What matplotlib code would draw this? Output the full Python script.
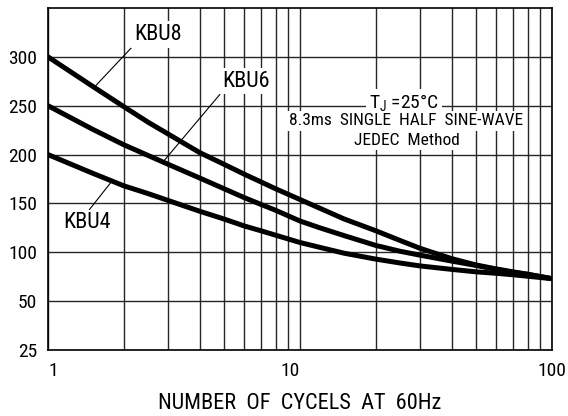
import matplotlib
matplotlib.use("Agg")
import matplotlib.pyplot as plt
import numpy as np
from matplotlib import font_manager
from matplotlib.ticker import FixedLocator, NullFormatter

# values
cycles = [1, 1.5, 2, 2.5, 3, 4, 5, 6, 7, 8, 10, 12, 15, 20, 25, 30, 40, 50, 60, 70, 80, 100]
kbu8 = [300, 270, 249, 233, 221, 202, 190, 180, 172, 165, 154, 145, 134, 122, 112, 104, 93.5, 87, 83, 80, 77.5, 73]
kbu6 = [250, 226, 210, 199, 190, 176, 165, 156, 149, 143, 132, 125, 117, 107, 101, 97, 91, 86.5, 82.5, 79.5, 77.5, 73]
kbu4 = [200, 181, 168, 160, 153, 142, 134, 127, 122, 117.5, 110, 105, 99, 93, 89, 86, 82.5, 80, 78.5, 77, 75.5, 73]

y_ticks = [25, 50, 100, 150, 200, 250, 300]
x_ticks = [1, 10, 100]
x_tick_labels = ['1', '10', '100']

# evenly spaced grid rows, but the values are not linear (25 at the bottom)
y_levels = [25, 50, 100, 150, 200, 250, 300, 350]
y_rows = list(range(len(y_levels)))

# the reference uses a condensed sans; take one if the box has it
names = {f.name for f in font_manager.fontManager.ttflist}
family, stretch, fs = 'Liberation Sans', 'normal', 0.8
for n in ('Liberation Sans Narrow', 'Roboto Condensed', 'Open Sans Condensed', 'Noto Sans Condensed'):
    if n in names:
        family, fs = n, 1.0
        break
else:
    for f in font_manager.fontManager.ttflist:
        if f.stretch in ('condensed', 'semi-condensed', 'extra-condensed') and f.style == 'normal':
            family, stretch, fs = f.name, f.stretch, 0.9
            break

plt.rcParams['font.family'] = [family, 'DejaVu Sans']
plt.rcParams['font.stretch'] = stretch
plt.rcParams['mathtext.default'] = 'regular'


def y_forward(v):
    return np.interp(v, y_levels, y_rows)


def y_inverse(p):
    return np.interp(p, y_rows, y_levels)


fig = plt.figure(figsize=(5.68, 4.16), dpi=100)
ax = fig.add_axes([48 / 568, 1 - 350 / 416, 504 / 568, 342 / 416])

ax.set_xscale('log')
ax.set_yscale('function', functions=(y_forward, y_inverse))
ax.set_xlim(1, 100)
ax.set_ylim(25, 350)

for ys in (kbu8, kbu6, kbu4):
    ax.plot(cycles, ys, color='black', lw=3.6, solid_capstyle='round', solid_joinstyle='round', zorder=2)

ax.set_yticks(y_ticks)
ax.set_yticklabels([str(v) for v in y_ticks], fontsize=14)
ax.xaxis.set_major_locator(FixedLocator(x_ticks))
ax.set_xticklabels(x_tick_labels, fontsize=14)
ax.xaxis.set_minor_locator(FixedLocator([m * d for d in (1, 10) for m in range(2, 10)]))
ax.xaxis.set_minor_formatter(NullFormatter())
ax.tick_params(which='both', length=0)
ax.tick_params(axis='y', pad=8)
ax.tick_params(axis='x', pad=9)
lbls = ax.get_xticklabels()
lbls[0].set_ha('left')
lbls[1].set_ha('right')

ax.set_axisbelow(True)
ax.grid(True, which='both', color='0.15', lw=1.0)
for s in ax.spines.values():
    s.set_linewidth(1.2)

ax.set_xlabel('NUMBER  OF  CYCELS  AT  60Hz', fontsize=16 * fs, labelpad=9)

box = dict(facecolor='white', edgecolor='none', pad=2)
lead = dict(arrowstyle='-', lw=0.8, color='black', shrinkA=0, shrinkB=0)
ax.annotate('KBU8', xy=(1.54, 270), xytext=(2.73, 323), fontsize=16 * fs, ha='center', va='center',
            bbox=box, arrowprops=dict(lead, relpos=(0, 0)))
ax.annotate('KBU6', xy=(2.85, 192), xytext=(6.1, 275), fontsize=16 * fs, ha='center', va='center',
            bbox=box, arrowprops=dict(lead, relpos=(0, 0)))
ax.annotate('KBU4', xy=(1.77, 171), xytext=(1.43, 130), fontsize=16 * fs, ha='center', va='center',
            bbox=box, arrowprops=dict(lead, relpos=(0.5, 1)))

ax.text(0.706, 0.725, '$T_J$ =25°C', transform=ax.transAxes, fontsize=14 * fs,
        ha='center', va='center', bbox=box)
ax.text(0.71, 0.670, '8.3ms  SINGLE  HALF  SINE-WAVE', transform=ax.transAxes, fontsize=12.5 * fs,
        ha='center', va='center', bbox=box)
ax.text(0.712, 0.614, 'JEDEC  Method', transform=ax.transAxes, fontsize=12.5 * fs,
        ha='center', va='center', bbox=box)

fig.savefig('out.png', dpi=100)
